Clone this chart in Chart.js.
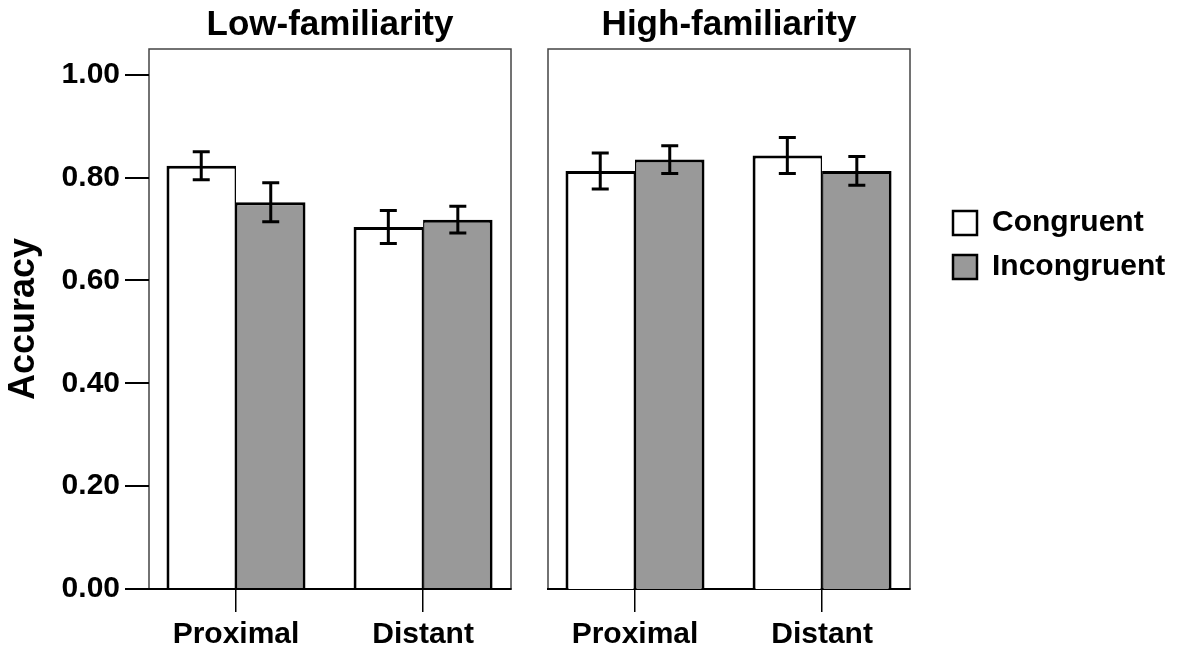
<!DOCTYPE html>
<html>
<head>
<meta charset="utf-8">
<script src="https://cdn.jsdelivr.net/npm/chart.js@4.4.1/dist/chart.umd.min.js"></script>
<style>
  body { margin: 0; background: #fff; }
  #wrap { position: relative; width: 1193px; height: 655px; }
  canvas { position: absolute; top: 0; }
  #low { left: 0; }
  #high { left: 530px; }
</style>
</head>
<body>
<div id="wrap">
  <canvas id="low" width="530" height="655"></canvas>
  <canvas id="high" width="663" height="655"></canvas>
</div>
<script>
const xCats = ['Proximal', 'Distant'];
const xTickPos = [1, 2];
const yTicks = [0, 0.2, 0.4, 0.6, 0.8, 1.0];
const seriesNames = ['Congruent', 'Incongruent'];

// Low-familiarity panel
const lowCongruent = [0.823, 0.704];
const lowCongruentErr = [0.027, 0.032];
const lowIncongruent = [0.752, 0.718];
const lowIncongruentErr = [0.038, 0.026];

// High-familiarity panel
const highCongruent = [0.813, 0.843];
const highCongruentErr = [0.035, 0.035];
const highIncongruent = [0.835, 0.813];
const highIncongruentErr = [0.027, 0.028];

Chart.defaults.font.family = '"Liberation Sans", Arial, Helvetica, sans-serif';
Chart.defaults.font.weight = 'bold';
Chart.defaults.color = '#000';

// box round each panel
const panelFrame = {
    id: 'panelFrame',
    beforeDraw(chart) {
        const { ctx, chartArea: a } = chart;
        ctx.save();
        ctx.strokeStyle = '#444';
        ctx.lineWidth = 1.5;
        ctx.strokeRect(a.left, a.top, a.right - a.left, a.bottom - a.top);
        ctx.restore();
    }
};

// error bars from the errors array on each dataset
const errorBars = {
    id: 'errorBars',
    afterDatasetsDraw(chart) {
        const { ctx } = chart;
        const yScale = chart.scales.y;
        ctx.save();
        ctx.strokeStyle = '#000';
        ctx.lineWidth = 3;
        chart.data.datasets.forEach((ds, di) => {
            chart.getDatasetMeta(di).data.forEach((bar, i) => {
                const v = ds.data[i].y;
                const e = ds.errors[i];
                const top = yScale.getPixelForValue(v + e);
                const bottom = yScale.getPixelForValue(v - e);
                ctx.beginPath();
                ctx.moveTo(bar.x, top);
                ctx.lineTo(bar.x, bottom);
                ctx.moveTo(bar.x - 8.5, top);
                ctx.lineTo(bar.x + 8.5, top);
                ctx.moveTo(bar.x - 8.5, bottom);
                ctx.lineTo(bar.x + 8.5, bottom);
                ctx.stroke();
            });
        });
        ctx.restore();
    }
};

function toPoints(vals) {
    return vals.map((v, i) => ({ x: xTickPos[i], y: v }));
}

function makePanel(canvasId, title, cong, congErr, incong, incongErr, isLeft) {
    const yAxis = isLeft ? {
        min: 0,
        max: 1.05,
        position: 'left',
        afterBuildTicks: s => { s.ticks = yTicks.map(v => ({ value: v })); },
        afterFit: s => { s.width = 149; },
        grid: { drawOnChartArea: false, drawTicks: true, tickLength: 24, lineWidth: 2, color: '#000' },
        border: { display: false },
        ticks: { font: { size: 30 }, padding: 5, color: '#000', callback: v => v.toFixed(2) },
        title: { display: true, text: 'Accuracy', font: { size: 36 }, padding: { top: 2, bottom: 0 }, color: '#000' }
    } : {
        min: 0,
        max: 1.05,
        position: 'right',
        afterFit: s => { s.width = 29; },   // gap between panel and legend
        grid: { display: false },
        border: { display: false },
        ticks: { display: false }
    };

    const legend = isLeft ? { display: false } : {
        display: true,
        position: 'right',
        align: 'start',
        maxWidth: 400,
        title: { display: true, text: '', font: { size: 10 }, padding: { top: 182, bottom: 0 } },
        labels: {
            font: { size: 30 },
            color: '#000',
            boxWidth: 24,
            boxHeight: 24,
            padding: 14,
            generateLabels: chart => chart.data.datasets.map((ds, i) => ({
                text: ds.label,
                fillStyle: ds.backgroundColor,
                strokeStyle: ds.borderColor,
                lineWidth: 2.5,
                hidden: false,
                datasetIndex: i,
                fontColor: '#000'
            }))
        }
    };

    return new Chart(document.getElementById(canvasId), {
        type: 'bar',
        data: {
            datasets: [{
                label: seriesNames[0],
                data: toPoints(cong),
                errors: congErr,
                backgroundColor: '#ffffff',
                borderColor: '#000',
                borderWidth: { top: 3, left: 3, right: 1.5, bottom: 0 },
                categoryPercentage: 0.743,
                barPercentage: 1.0
            }, {
                label: seriesNames[1],
                data: toPoints(incong),
                errors: incongErr,
                backgroundColor: '#999999',
                borderColor: '#000',
                borderWidth: { top: 3, left: 1.5, right: 3, bottom: 0 },
                categoryPercentage: 0.743,
                barPercentage: 1.0
            }]
        },
        options: {
            responsive: false,
            animation: false,
            devicePixelRatio: 1,
            events: [],
            layout: { padding: isLeft ? { right: 19 } : { left: 18, right: 0 } },
            plugins: {
                title: {
                    display: true,
                    text: title,
                    fullSize: false,
                    font: { size: 35, weight: 'bold' },
                    padding: { top: 4, bottom: 3 },
                    color: '#000'
                },
                legend: legend,
                tooltip: { enabled: false }
            },
            scales: {
                x: {
                    type: 'linear',
                    min: 0.535,
                    max: 2.47,
                    offset: false,
                    afterBuildTicks: s => { s.ticks = xTickPos.map(v => ({ value: v })); },
                    afterFit: s => { s.height = 66; },
                    grid: { offset: false, drawOnChartArea: false, drawTicks: true, tickLength: 23, lineWidth: 1.5, color: '#000' },
                    border: { display: true, color: '#000', width: 2 },
                    ticks: {
                        font: { size: 30 },
                        padding: 5,
                        color: '#000',
                        autoSkip: false,
                        maxRotation: 0,
                        callback: v => xCats[xTickPos.indexOf(v)]
                    }
                },
                y: yAxis
            }
        },
        plugins: [panelFrame, errorBars]
    });
}

makePanel('low', 'Low-familiarity', lowCongruent, lowCongruentErr, lowIncongruent, lowIncongruentErr, true);
const highChart = makePanel('high', 'High-familiarity', highCongruent, highCongruentErr, highIncongruent, highIncongruentErr, false);

// legend width comes from its text; pad the right side so the panel ends at 910px
highChart.options.layout.padding.right = Math.max(0, 254 - highChart.legend.width);
highChart.update();
</script>
</body>
</html>
